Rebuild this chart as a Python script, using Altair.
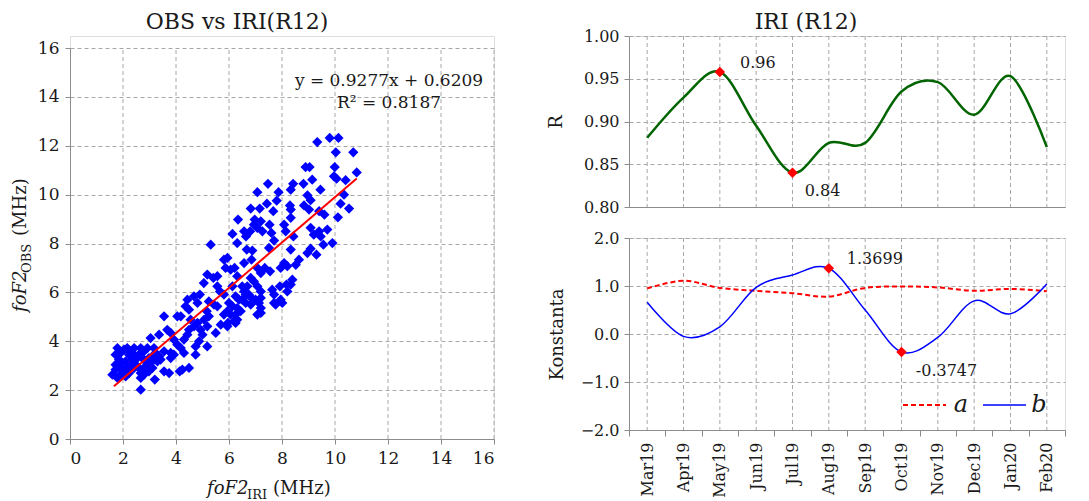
import altair as alt
import pandas as pd

FONT = "DejaVu Serif"

# ---------------- scatter data (foF2 IRI vs OBS, MHz) ----------------
iri_x = [9.33, 9.80, 10.13, 10.03, 10.69, 9.99, 8.89, 9.04, 10.82, 9.96, 10.06, 10.40, 7.47, 8.42, 8.81,
         9.14, 9.45, 8.33, 7.07, 7.87, 10.34, 8.96, 9.08, 7.43, 7.80, 7.67, 8.30, 8.33, 10.21, 10.53,
         6.82, 7.16, 8.83, 9.02, 9.40, 9.60, 10.11, 8.33, 6.34, 6.97, 7.20, 6.94, 7.07, 7.26, 7.53,
         8.08, 6.13, 6.57, 6.80, 6.64, 6.31, 8.43, 8.14, 7.60, 7.70, 9.08, 9.20, 9.40, 9.71, 9.46,
         5.31, 9.90, 9.56, 6.67, 6.88, 5.81, 5.94, 6.85, 7.51, 9.08, 9.30, 8.96, 8.33, 8.64, 8.52,
         8.20, 7.95, 8.08, 6.57, 5.87, 6.06, 6.21, 7.07, 7.20, 7.35, 7.55, 6.31, 5.18, 5.41, 5.56,
         5.05, 8.39, 8.33, 6.82, 6.94, 6.69, 6.50, 6.57, 6.75, 6.13, 7.07, 7.20, 7.63, 7.92, 8.17,
         8.20, 5.56, 5.66, 4.68, 4.90, 5.81, 6.25, 6.38, 6.63, 6.82, 7.00, 6.50, 6.63, 6.82, 7.20,
         7.13, 7.20, 7.20, 7.07, 7.70, 7.70, 7.95, 8.01, 7.76, 4.43, 4.81, 4.36, 4.49, 5.24, 5.43,
         5.56, 6.00, 6.13, 6.31, 6.44, 5.94, 6.06, 6.25, 6.31, 6.25, 5.81, 5.16, 5.24, 5.06, 4.05,
         4.18, 3.55, 4.55, 4.81, 4.68, 5.18, 5.96, 5.94, 5.69, 6.19, 5.50, 4.93, 5.00, 4.49, 4.43,
         3.67, 3.80, 3.36, 3.04, 3.92, 4.30, 4.05, 4.87, 4.74, 5.18, 4.18, 4.30, 3.80, 3.55, 4.74,
         3.36, 3.17, 2.92, 2.67, 3.23, 3.11, 2.98, 2.86, 2.79, 2.60, 2.42, 2.29, 2.16, 2.04, 1.91,
         1.79, 1.72, 1.85, 1.97, 1.72, 1.72, 1.60, 1.79, 1.97, 2.16, 2.23, 2.35, 2.48, 2.54, 2.60,
         2.67, 2.67, 2.79, 2.67, 2.79, 2.92, 2.98, 3.11, 3.20, 3.55, 3.74, 4.14, 4.24, 4.49, 3.42,
         3.30, 3.80, 3.92, 2.29, 2.42, 2.10, 1.91, 2.04, 2.23, 2.42, 2.79, 3.04, 3.17, 2.10]
obs_y = [12.15, 12.32, 12.32, 11.73, 11.73, 11.13, 11.13, 11.13, 10.91, 10.75, 10.65, 10.59, 10.44, 10.44, 10.44,
         10.61, 10.20, 10.20, 10.10, 10.10, 10.00, 9.97, 9.77, 9.63, 9.75, 9.32, 9.56, 9.39, 9.63, 9.43,
         9.43, 9.43, 9.56, 9.39, 9.32, 9.18, 9.07, 9.05, 8.98, 8.98, 8.91, 8.77, 8.64, 8.50, 8.77,
         8.77, 8.39, 8.50, 8.50, 8.29, 8.02, 8.29, 8.50, 8.43, 8.12, 8.64, 8.36, 8.50, 8.57, 8.29,
         7.95, 8.02, 7.95, 7.75, 7.71, 7.34, 7.41, 7.34, 7.82, 7.79, 7.54, 7.61, 7.75, 7.34, 7.13,
         7.07, 7.00, 7.20, 7.20, 7.00, 6.93, 7.00, 7.00, 6.79, 7.00, 6.86, 6.66, 6.73, 6.59, 6.66,
         6.38, 6.52, 6.32, 6.59, 6.45, 6.25, 6.25, 6.04, 5.91, 6.25, 6.25, 6.04, 6.11, 6.25, 6.32,
         6.04, 6.25, 6.04, 5.84, 5.91, 5.91, 5.84, 5.70, 5.91, 5.80, 5.70, 5.70, 5.57, 5.50, 5.77,
         5.57, 5.36, 5.16, 5.09, 5.91, 5.57, 5.70, 5.57, 5.50, 5.70, 5.57, 5.43, 5.29, 5.63, 5.50,
         5.43, 5.57, 5.43, 5.36, 5.23, 5.23, 5.09, 5.09, 4.88, 4.75, 5.09, 5.23, 5.02, 4.88, 5.02,
         5.02, 5.02, 4.88, 4.75, 4.61, 4.61, 4.75, 4.61, 4.68, 4.82, 4.34, 4.47, 4.27, 4.47, 4.27,
         4.47, 4.34, 4.27, 4.13, 4.07, 4.07, 3.86, 4.00, 3.79, 3.79, 3.72, 3.52, 3.52, 3.59, 3.45,
         3.38, 3.72, 3.72, 3.72, 3.52, 3.38, 3.31, 3.18, 3.59, 3.45, 3.72, 3.59, 3.72, 3.66, 3.52,
         3.72, 3.45, 3.25, 3.11, 3.04, 2.84, 2.63, 2.50, 2.70, 2.91, 2.70, 3.25, 3.04, 3.31, 2.91,
         2.70, 2.50, 2.63, 2.02, 2.91, 2.97, 2.77, 2.91, 2.43, 2.77, 2.70, 2.77, 2.84, 2.91, 3.25,
         3.18, 3.31, 3.45, 3.04, 2.91, 2.56, 2.91, 2.77, 3.45, 3.45, 3.25, 3.18, 3.25, 3.18]

# trendline end points
fit_x = [1.66, 10.82]
fit_y = [2.16, 10.66]
eq_lines = ["y = 0.9277x + 0.6209", "R\u00b2 = 0.8187"]
axis_ticks = [0, 2, 4, 6, 8, 10, 12, 14, 16]

# ---------------- monthly data ----------------
months = ["Mar19", "Apr19", "May19", "Jun19", "Jul19", "Aug19",
          "Sep19", "Oct19", "Nov19", "Dec19", "Jan20", "Feb20"]
r_vals = [0.881, 0.928, 0.958, 0.895, 0.840, 0.875, 0.875, 0.935, 0.946, 0.908, 0.953, 0.870]
a_vals = [0.95, 1.11, 0.96, 0.90, 0.85, 0.78, 0.96, 0.99, 0.97, 0.90, 0.94, 0.89]
b_vals = [0.66, -0.05, 0.15, 0.97, 1.23, 1.3699, 0.50, -0.3747, -0.07, 0.69, 0.42, 1.04]

r_hi_month = ["May19", "Jul19"]
r_hi_val = [0.958, 0.840]
r_hi_lab = ["0.96", "0.84"]
b_hi_month = ["Aug19", "Oct19"]
b_hi_val = [1.3699, -0.3747]
b_hi_lab = ["1.3699", "-0.3747"]

titles = ["OBS vs IRI(R12)", "IRI (R12)"]

GRID = "#a8a8a8"
DOMAIN = "#8c8c8c"
LBL = "#1a1a1a"

one = pd.DataFrame({"k": [0]})
def txt(s, x, y, size=18, style="normal", align="left", angle=0, color=LBL, baseline="alphabetic"):
    return alt.Chart(one).mark_text(text=s, font=FONT, fontSize=size, fontStyle=style, align=align,
                                    baseline=baseline, angle=angle, color=color).encode(
        x=alt.value(x), y=alt.value(y))

# ---------------- left: scatter ----------------
TOPGAP = 12                 # empty band above the scatter plot area
LW, LH = 424, 391 + TOPGAP
sc_df = pd.DataFrame({"iri": iri_x, "obs": obs_y})
fit_df = pd.DataFrame({"iri": fit_x, "obs": fit_y})
vg_df = pd.DataFrame({"iri": axis_ticks[1:], "lo": [axis_ticks[0]] * 8, "hi": [axis_ticks[-1]] * 8})
xs = alt.Scale(domain=[axis_ticks[0], axis_ticks[-1]], nice=False)
ys = alt.Scale(domain=[axis_ticks[0], axis_ticks[-1]], nice=False, range=[LH, TOPGAP])
ax_common = dict(gridDash=[4, 3], gridColor=GRID, domainColor=DOMAIN, tickColor=DOMAIN,
                 tickSize=5, labelFont=FONT, labelFontSize=17, labelColor=LBL, title=None,
                 values=axis_ticks, labelPadding=6)
x_axis = alt.Axis(grid=False, **ax_common)
y_axis = alt.Axis(grid=True, **ax_common)

vgrid_l = alt.Chart(vg_df).mark_rule(color=GRID, strokeDash=[4, 3], strokeWidth=1).encode(
    x=alt.X("iri:Q", scale=xs, axis=x_axis),
    y=alt.Y("lo:Q", scale=ys, axis=y_axis), y2="hi:Q")
pts = alt.Chart(sc_df).mark_point(shape="diamond", filled=True, size=105, color="#0000ff", opacity=1).encode(
    x=alt.X("iri:Q", scale=xs, axis=x_axis),
    y=alt.Y("obs:Q", scale=ys, axis=y_axis),
)
fit = alt.Chart(fit_df).mark_line(color="#ff0000", strokeWidth=2).encode(
    x=alt.X("iri:Q", scale=xs, axis=x_axis), y=alt.Y("obs:Q", scale=ys, axis=y_axis))

T = TOPGAP
eq1 = txt(eq_lines[0], 319, 38 + T, size=17, align="center")
eq2 = txt(eq_lines[1], 319, 60 + T, size=17, align="center")
ttl_l = txt(titles[0], 167, -19 + T, size=22, align="center")

# axis titles with subscripts
xt1 = txt("foF2", 137, 446 + T, size=18, style="italic")
xt2 = txt("IRI", 177, 451 + T, size=13)
xt3 = txt("(MHz)", 203, 446 + T, size=18)
yt1 = txt("foF2", -44, 264 + T, size=18, style="italic", angle=270)
yt2 = txt("OBS", -39, 225 + T, size=13, angle=270)
yt3 = txt("(MHz)", -44, 188 + T, size=18, angle=270)

left = alt.layer(vgrid_l, pts, fit, eq1, eq2, ttl_l, xt1, xt2, xt3, yt1, yt2, yt3).properties(
    width=LW, height=LH)

# ---------------- right: monthly ----------------
RW, RT, RB = 436, 171, 192
m_df = pd.DataFrame({"month": months, "R": r_vals, "a": a_vals, "b": b_vals})
mscale = alt.Scale(type="band", domain=months, paddingInner=0, paddingOuter=0)

def mx(axis):
    return alt.X("month:N", scale=mscale, bandPosition=0.5, axis=axis, title=None)

yax = dict(grid=True, gridDash=[4, 3], gridColor=GRID, domainColor=DOMAIN, tickColor=DOMAIN,
           tickSize=5, labelFont=FONT, labelFontSize=16, labelColor=LBL, labelPadding=5,
           titleFont=FONT, titleFontSize=18, titleFontWeight="normal", titleColor=LBL)

top_axis = alt.Axis(labels=False, ticks=False, grid=False, domain=True, domainColor=DOMAIN, title=None)
bot_axis = alt.Axis(tickBand="extent", grid=False, labelAngle=270, labelFont=FONT, labelFontSize=16,
                    labelColor=LBL, domainColor=DOMAIN, tickColor=DOMAIN, tickSize=6, labelPadding=6,
                    title=None)

# top: R
rscale = alt.Scale(domain=[0.8, 1.0], nice=False, zero=False)
r_yaxis = alt.Axis(values=[0.80, 0.85, 0.90, 0.95, 1.00], format=".2f", title="R", titlePadding=18, **yax)
vgrid_t = alt.Chart(m_df).mark_rule(color=GRID, strokeDash=[4, 3], strokeWidth=1).encode(
    x=mx(top_axis))
r_line = alt.Chart(m_df).mark_line(color="#006400", strokeWidth=2.5, interpolate="cardinal").encode(
    x=mx(top_axis), y=alt.Y("R:Q", scale=rscale, axis=r_yaxis))
rh_df = pd.DataFrame({"month": r_hi_month, "R": r_hi_val, "lab": r_hi_lab})
r_pts = alt.Chart(rh_df).mark_point(shape="diamond", filled=True, size=110, color="#ff0000", opacity=1).encode(
    x=mx(top_axis), y=alt.Y("R:Q", scale=rscale, axis=r_yaxis))
r_lab1 = alt.Chart(rh_df).transform_filter(alt.datum.month == r_hi_month[0]).mark_text(
    font=FONT, fontSize=16, color=LBL, dx=38, dy=-9).encode(
    x=mx(top_axis), y=alt.Y("R:Q", scale=rscale, axis=r_yaxis), text="lab:N")
r_lab2 = alt.Chart(rh_df).transform_filter(alt.datum.month == r_hi_month[1]).mark_text(
    font=FONT, fontSize=16, color=LBL, dx=30, dy=18).encode(
    x=mx(top_axis), y=alt.Y("R:Q", scale=rscale, axis=r_yaxis), text="lab:N")
ttl_r = txt(titles[1], 177, -7, size=22, align="center")

top = alt.layer(vgrid_t, r_line, r_pts, r_lab1, r_lab2, ttl_r).properties(width=RW, height=RT)

# bottom: a and b
kscale = alt.Scale(domain=[-2, 2], nice=False)
k_yaxis = alt.Axis(values=[-2, -1, 0, 1, 2], format=".1f", title="Konstanta", titlePadding=14, **yax)
vgrid_b = alt.Chart(m_df).mark_rule(color=GRID, strokeDash=[4, 3], strokeWidth=1).encode(
    x=mx(bot_axis))
a_line = alt.Chart(m_df).mark_line(color="#ff0000", strokeWidth=2, strokeDash=[5, 3], interpolate="cardinal").encode(
    x=mx(bot_axis), y=alt.Y("a:Q", scale=kscale, axis=k_yaxis))
b_line = alt.Chart(m_df).mark_line(color="#0000ff", strokeWidth=1.5, interpolate="cardinal").encode(
    x=mx(bot_axis), y=alt.Y("b:Q", scale=kscale, axis=k_yaxis))
bh_df = pd.DataFrame({"month": b_hi_month, "b": b_hi_val, "lab": b_hi_lab})
b_pts = alt.Chart(bh_df).mark_point(shape="diamond", filled=True, size=110, color="#ff0000", opacity=1).encode(
    x=mx(bot_axis), y=alt.Y("b:Q", scale=kscale, axis=k_yaxis))
b_lab1 = alt.Chart(bh_df).transform_filter(alt.datum.month == b_hi_month[0]).mark_text(
    font=FONT, fontSize=16, color=LBL, dx=46, dy=-9).encode(
    x=mx(bot_axis), y=alt.Y("b:Q", scale=kscale, axis=k_yaxis), text="lab:N")
b_lab2 = alt.Chart(bh_df).transform_filter(alt.datum.month == b_hi_month[1]).mark_text(
    font=FONT, fontSize=16, color=LBL, dx=45, dy=19).encode(
    x=mx(bot_axis), y=alt.Y("b:Q", scale=kscale, axis=k_yaxis), text="lab:N")

leg_a_line = alt.Chart(one).mark_rule(color="#ff0000", strokeWidth=2, strokeDash=[5, 3]).encode(
    x=alt.value(274), x2=alt.value(317), y=alt.value(167))
leg_b_line = alt.Chart(one).mark_rule(color="#0000ff", strokeWidth=1.5).encode(
    x=alt.value(354), x2=alt.value(397), y=alt.value(167))
leg_a = txt("a", 332, 174, size=24, style="italic", align="center")
leg_b = txt("b", 410, 174, size=24, style="italic", align="center")

bottom = alt.layer(vgrid_b, a_line, b_line, b_pts, b_lab1, b_lab2,
                   leg_a_line, leg_b_line, leg_a, leg_b).properties(width=RW, height=RB)

right = alt.vconcat(top, bottom, spacing=13)

chart = alt.hconcat(left, right, spacing=51).configure_view(stroke=None).configure(
    background="white", padding={"left": 3, "top": 2, "right": 0, "bottom": 0})

chart.save("out.html", embed_options={"renderer": "svg", "actions": False})
